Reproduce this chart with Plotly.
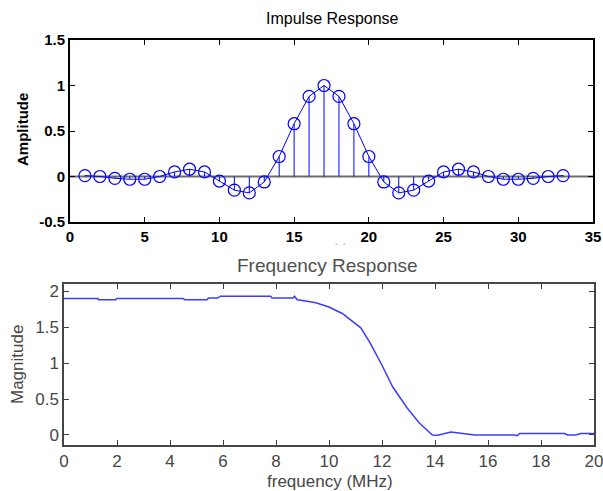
import plotly.graph_objects as go

# Impulse response (stem) data
n = list(range(1, 34))
h = [0.01, 0.0, -0.02, -0.03, -0.03, 0.0, 0.05, 0.08, 0.05, -0.05, -0.15, -0.18, -0.06,
     0.22, 0.58, 0.88, 1.0, 0.88, 0.58, 0.22,
     -0.06, -0.18, -0.15, -0.05, 0.05, 0.08, 0.05, 0.0, -0.03, -0.03, -0.02, 0.0, 0.01]

# Frequency response data
freq = [0, 1.28, 1.3, 1.95, 2.0, 4.5, 4.55, 5.4, 5.45, 5.8, 5.9, 7.8, 7.85, 8.65, 8.7, 8.8, 9.0,
        9.5, 10.0, 10.5, 11.2, 11.55, 12.0, 12.4, 12.95, 13.4, 13.9, 14.1, 14.6, 15.2, 15.5,
        17.0, 17.1, 17.2, 17.6, 18.9, 19.0, 19.3, 19.5, 20.0]
mag = [1.90, 1.90, 1.88, 1.88, 1.90, 1.90, 1.88, 1.88, 1.905, 1.905, 1.93, 1.93, 1.905, 1.905,
       1.93, 1.88, 1.87, 1.84, 1.78, 1.69, 1.49, 1.28, 0.97, 0.67, 0.375, 0.17, 0.0, -0.005,
       0.04, 0.01, 0.0, 0.0, -0.01, 0.02, 0.02, 0.02, 0.0, 0.0, 0.02, 0.02]

W, H = 603, 491
def px(x): return x / W
def py(y): return 1 - y / H

blue = "rgb(0,0,255)"
fig = go.Figure()

# stems
sx, sy = [], []
for xi, yi in zip(n, h):
    sx += [xi, xi, None]
    sy += [0, yi, None]
fig.add_trace(go.Scatter(x=sx, y=sy, mode="lines", line=dict(color=blue, width=1),
                         xaxis="x", yaxis="y", showlegend=False, hoverinfo="skip"))
fig.add_trace(go.Scatter(x=n, y=h, mode="lines+markers", line=dict(color=blue, width=1),
                         marker=dict(symbol="circle-open", size=12, color=blue, line=dict(width=1.2)),
                         xaxis="x", yaxis="y", showlegend=False))
fig.add_trace(go.Scatter(x=freq, y=mag, mode="lines", line=dict(color="rgb(60,60,255)", width=1.5),
                         xaxis="x2", yaxis="y2", showlegend=False))

fig.add_shape(type="line", xref="x domain", yref="y", x0=0, x1=1, y0=0, y1=0,
              line=dict(color="rgb(110,110,110)", width=2), layer="below")

tf_top = dict(family="Liberation Sans, Arial", size=15, color="black", weight="bold")
narrow = "Liberation Sans Narrow, Arial Narrow, Liberation Sans, Arial"
tf_bot = dict(family=narrow, size=17, color="rgb(70,70,70)")

fig.update_layout(
    width=W, height=H, margin=dict(l=0, r=0, t=0, b=0, autoexpand=False),
    paper_bgcolor="white", plot_bgcolor="white",
    xaxis=dict(domain=[px(70), px(593)], range=[0, 35], tickvals=[0, 5, 10, 15, 20, 25, 30, 35],
               ticks="inside", ticklen=5, tickcolor="black", showgrid=False, zeroline=False,
               showline=True, linecolor="black", linewidth=2, mirror="ticks",
               tickfont=tf_top, anchor="y", ticklabeloverflow="allow"),
    yaxis=dict(domain=[py(222), py(40)], range=[-0.5, 1.5], tickvals=[-0.5, 0, 0.5, 1, 1.5],
               ticktext=["-0.5", "0", "0.5", "1", "1.5"],
               ticks="inside", ticklen=5, tickcolor="black", showgrid=False, zeroline=False,
               showline=True, linecolor="black", linewidth=2, mirror="ticks",
               tickfont=tf_top, anchor="x", ticklabeloverflow="allow"),
    xaxis2=dict(domain=[px(64), px(594)], range=[0, 20], tickvals=list(range(0, 21, 2)),
                ticks="inside", ticklen=5, tickcolor="rgb(60,60,60)", showgrid=False, zeroline=False,
                showline=True, linecolor="rgb(70,70,70)", linewidth=1.5, mirror="ticks",
                tickfont=tf_bot, anchor="y2", ticklabeloverflow="allow"),
    yaxis2=dict(domain=[py(445), py(284)], range=[-0.14, 2.1], tickvals=[0, 0.5, 1, 1.5, 2],
                ticktext=["0", "0.5", "1", "1.5", "2"],
                ticks="inside", ticklen=5, tickcolor="rgb(60,60,60)", showgrid=False, zeroline=False,
                showline=True, linecolor="rgb(70,70,70)", linewidth=1.5, mirror="ticks",
                tickfont=tf_bot, anchor="x2", ticklabeloverflow="allow"),
)

ann = [
    dict(text="Impulse Response", x=px(332), y=py(19), font=dict(family="Liberation Sans, Arial", size=16, color="black")),
    dict(text="Amplitude", x=px(22), y=py(130), textangle=-90, font=dict(family="Liberation Sans, Arial", size=15, color="black", weight="bold")),
    dict(text="Frequency Response", x=px(327), y=py(265), font=dict(family=narrow, size=19, color="rgb(80,80,80)")),
    dict(text="Magnitude", x=px(17), y=py(365), textangle=-90, font=dict(family=narrow, size=17, color="rgb(70,70,70)")),
    dict(text="frequency (MHz)", x=px(330), y=py(481), font=dict(family=narrow, size=17, color="rgb(70,70,70)")),
    dict(text="`  ´", x=px(340), y=py(247), font=dict(family="Liberation Sans, Arial", size=9, color="rgb(120,120,120)")),
]
for a in ann:
    fig.add_annotation(xref="paper", yref="paper", xanchor="center", yanchor="middle", showarrow=False, **a)

fig.write_html("out.html", config={"displayModeBar": False},
               post_script="document.body.style.margin='0';")
